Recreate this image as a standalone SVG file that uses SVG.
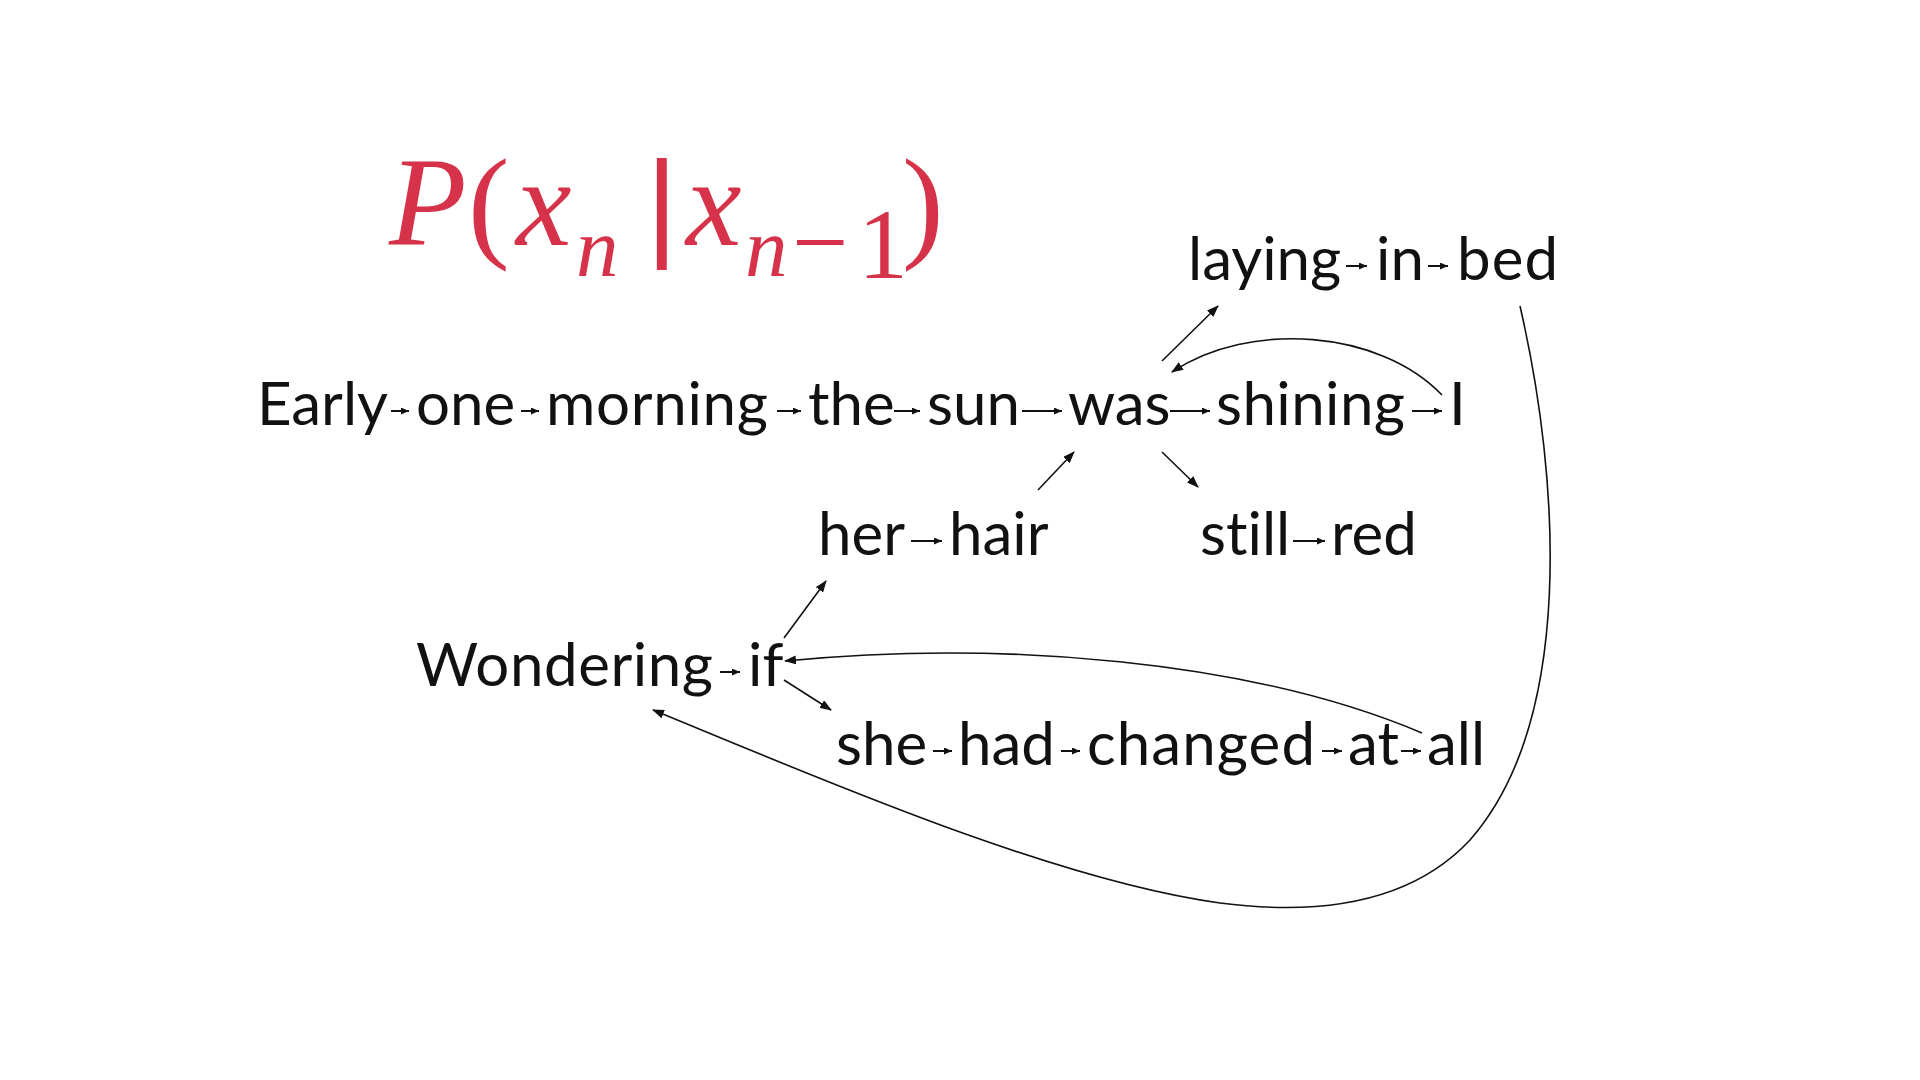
<svg xmlns="http://www.w3.org/2000/svg" width="1920" height="1080" viewBox="0 0 1920 1080">
<style>
.w{font-family:Lato,"Liberation Sans",sans-serif;font-size:60px;fill:#111;font-variant-ligatures:none;font-feature-settings:"liga" 0,"clig" 0}
.f{font-family:"Liberation Serif",serif;fill:#d6334a}
.i{font-style:italic}
.c{fill:none;stroke:#111;stroke-width:1.6;marker-end:url(#ah)}
.s{stroke:#111;stroke-width:2;marker-end:url(#sh)}
</style>
<defs>
<marker id="ah" markerUnits="userSpaceOnUse" markerWidth="12" markerHeight="9" viewBox="0 0 12 9" refX="11" refY="4.5" orient="auto"><path d="M0,0 L12,4.5 L0,9 z" fill="#111"/></marker>
<marker id="sh" markerUnits="userSpaceOnUse" markerWidth="8" markerHeight="7" viewBox="0 0 8 7" refX="8" refY="3.5" orient="auto"><path d="M0,0 L8,3.5 L0,7 z" fill="#111"/></marker>
</defs>
<rect width="1920" height="1080" fill="#fff"/>
<g id="formula" class="f">
<text x="389" y="245" font-size="127" class="i">P</text>
<text x="468" y="245" font-size="125">(</text>
<text x="516" y="245" font-size="125" class="i">x</text>
<text x="576" y="276" font-size="85" class="i">n</text>
<text x="650" y="243" font-size="118" stroke="#d6334a" stroke-width="4">|</text>
<text x="686" y="245" font-size="125" class="i">x</text>
<text x="745" y="276" font-size="85" class="i">n</text>
<text x="792" y="276" font-size="100">−</text>
<text x="858" y="278" font-size="100">1</text>
<text x="902" y="245" font-size="125">)</text>
</g>
<g id="n-early"><text class="w" x="257" y="425">Early</text></g>
<g id="n-one"><text class="w" x="416" y="425">one</text></g>
<g id="n-morning"><text class="w" x="546" y="425" textLength="222">morning</text></g>
<g id="n-the"><text class="w" x="808" y="425">the</text></g>
<g id="n-sun"><text class="w" x="927" y="425">sun</text></g>
<g id="n-was"><text class="w" x="1068" y="425">was</text></g>
<g id="n-shining"><text class="w" x="1216" y="425" textLength="189">shining</text></g>
<g id="n-i"><text class="w" x="1449" y="425">I</text></g>
<g id="n-laying"><text class="w" x="1188" y="280">laying</text></g>
<g id="n-in"><text class="w" x="1376" y="280">in</text></g>
<g id="n-bed"><text class="w" x="1457" y="280" textLength="101">bed</text></g>
<g id="n-her"><text class="w" x="818" y="555">her</text></g>
<g id="n-hair"><text class="w" x="949" y="555">hair</text></g>
<g id="n-still"><text class="w" x="1200" y="555">still</text></g>
<g id="n-red"><text class="w" x="1331" y="555">red</text></g>
<g id="n-wondering"><text class="w" x="416" y="686" textLength="297">Wondering</text></g>
<g id="n-if"><text class="w" x="748" y="686">if</text></g>
<g id="n-she"><text class="w" x="836" y="765">she</text></g>
<g id="n-had"><text class="w" x="958" y="765">had</text></g>
<g id="n-changed"><text class="w" x="1087" y="765" textLength="228">changed</text></g>
<g id="n-at"><text class="w" x="1348" y="765">at</text></g>
<g id="n-all"><text class="w" x="1427" y="765">all</text></g>
<g id="connectors">
<line class="s" x1="391" y1="411" x2="409" y2="411"/>
<line class="s" x1="521" y1="411" x2="539" y2="411"/>
<line class="s" x1="777" y1="411" x2="801" y2="411"/>
<line class="s" x1="894" y1="411" x2="920" y2="411"/>
<line class="s" x1="1022" y1="411" x2="1062" y2="411"/>
<line class="s" x1="1170" y1="411" x2="1210" y2="411"/>
<line class="s" x1="1412" y1="411" x2="1442" y2="411"/>
<line class="s" x1="1346" y1="266" x2="1367" y2="266"/>
<line class="s" x1="1428" y1="266" x2="1448" y2="266"/>
<line class="s" x1="911" y1="541" x2="942" y2="541"/>
<line class="s" x1="1293" y1="541" x2="1325" y2="541"/>
<line class="s" x1="720" y1="672" x2="740" y2="672"/>
<line class="s" x1="933" y1="751" x2="952" y2="751"/>
<line class="s" x1="1061" y1="751" x2="1080" y2="751"/>
<line class="s" x1="1322" y1="751" x2="1342" y2="751"/>
<line class="s" x1="1401" y1="751" x2="1421" y2="751"/>
<path class="c" d="M1162,361 L1218,306"/>
<path class="c" d="M1162,452 L1198,487"/>
<path class="c" d="M1038,490 L1074,452"/>
<path class="c" d="M1442,395 C1380,330 1250,320 1172,372"/>
<path class="c" d="M784,638 L826,581"/>
<path class="c" d="M784,680 L831,710"/>
<path class="c" d="M1422,733 C1250,660 1000,640 785,661"/>
<path class="c" d="M1520,306 C1560,480 1575,720 1470,840 C1400,915 1290,912 1220,903 C1050,880 800,770 653,710"/>
</g>
</svg>
